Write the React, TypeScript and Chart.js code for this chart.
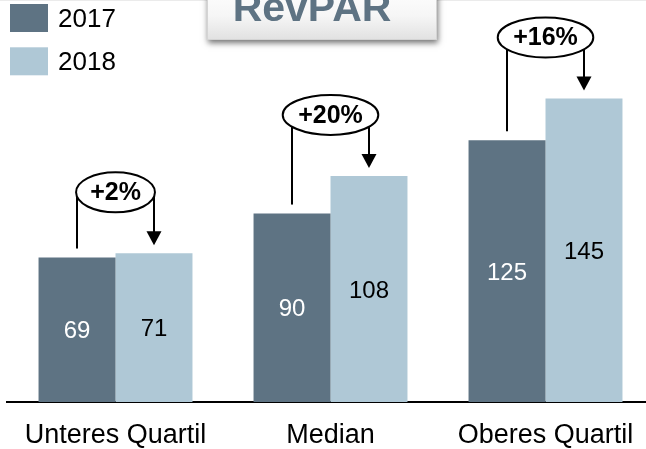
import React, { useEffect, useRef } from 'react';
import { Chart, registerables } from 'chart.js';

Chart.register(...registerables);

// ---- data ----
const categories = ['Unteres Quartil', 'Median', 'Oberes Quartil'];
const seriesLabels = ['2017', '2018'];
const values2017 = [69, 90, 125];
const values2018 = [71, 108, 145];
const changeLabels = ['+2%', '+20%', '+16%'];
const chartTitle = 'RevPAR';

// ---- styles ----
const DARK = '#5E7383';
const LIGHT = '#AFC8D6';
const FONT = "'Liberation Sans', Arial, Helvetica, sans-serif";

const titleBoxPlugin = {
  id: 'titleBox',
  afterDraw(chart: any) {
    const ctx = chart.ctx;
    ctx.save();
    ctx.fillStyle = '#ebebeb';
    ctx.fillRect(0, 0, chart.width, 1);
    const x = 207, y = -14, w = 230, h = 54;
    ctx.shadowColor = 'rgba(0,0,0,0.55)';
    ctx.shadowBlur = 6;
    ctx.shadowOffsetX = 1;
    ctx.shadowOffsetY = 3;
    const g = ctx.createLinearGradient(0, y, 0, y + h);
    g.addColorStop(0, '#ffffff');
    g.addColorStop(0.55, '#f6f6f6');
    g.addColorStop(1, '#e1e1e1');
    ctx.fillStyle = g;
    ctx.fillRect(x, y, w, h);
    ctx.shadowColor = 'transparent';
    ctx.strokeStyle = '#d4d4d4';
    ctx.lineWidth = 1;
    ctx.strokeRect(x + 0.5, y + 0.5, w - 1, h - 1);
    ctx.fillStyle = DARK;
    ctx.font = `bold 41px ${FONT}`;
    ctx.textAlign = 'center';
    ctx.textBaseline = 'alphabetic';
    ctx.fillText(chartTitle, 312, 20.5);
    ctx.restore();
  },
};

const legendPlugin = {
  id: 'customLegend',
  afterDraw(chart: any) {
    const ctx = chart.ctx;
    ctx.save();
    chart.data.datasets.forEach((ds: any, i: number) => {
      const by = 4 + i * 43.3;
      ctx.fillStyle = ds.backgroundColor;
      ctx.fillRect(10, by, 38, 28);
      ctx.fillStyle = '#000';
      ctx.font = `26px ${FONT}`;
      ctx.textAlign = 'left';
      ctx.textBaseline = 'middle';
      ctx.fillText(ds.label, 58, by + 15.5);
    });
    ctx.restore();
  },
};

const valueLabelPlugin = {
  id: 'valueLabels',
  afterDatasetsDraw(chart: any) {
    const ctx = chart.ctx;
    ctx.save();
    ctx.font = `24px ${FONT}`;
    ctx.textAlign = 'center';
    ctx.textBaseline = 'middle';
    chart.data.datasets.forEach((ds: any, di: number) => {
      const meta = chart.getDatasetMeta(di);
      meta.data.forEach((bar: any, j: number) => {
        const v = ds.data[j].y;
        ctx.fillStyle = di === 0 ? '#ffffff' : '#000000';
        ctx.fillText(String(v), bar.x, (bar.y + bar.base) / 2 + 2);
      });
    });
    ctx.restore();
  },
};

const changePlugin = {
  id: 'changeAnnotations',
  afterDatasetsDraw(chart: any) {
    const ctx = chart.ctx;
    const m0 = chart.getDatasetMeta(0);
    const m1 = chart.getDatasetMeta(1);
    ctx.save();
    ctx.font = `bold 25px ${FONT}`;
    ctx.lineWidth = 2;
    ctx.strokeStyle = '#000';
    changeLabels.forEach((label, j) => {
      const b0 = m0.data[j];
      const b1 = m1.data[j];
      if (!b0 || !b1) return;
      const cx = (b0.x + b1.x) / 2;
      const cy = Math.min(b0.y, b1.y) - 61;
      const tw = ctx.measureText(label).width;
      const rx = tw * 0.6 + 9;
      const ry = 20;
      const yOn = (x: number) => {
        const d = (x - cx) / rx;
        if (Math.abs(d) >= 1) return cy;
        return cy + ry * Math.sqrt(1 - d * d);
      };
      ctx.beginPath();
      ctx.moveTo(b0.x, b0.y - 9);
      ctx.lineTo(b0.x, yOn(b0.x));
      ctx.stroke();
      const tip = b1.y - 8;
      ctx.beginPath();
      ctx.moveTo(b1.x, yOn(b1.x));
      ctx.lineTo(b1.x, tip - 12);
      ctx.stroke();
      ctx.beginPath();
      ctx.moveTo(b1.x - 7.5, tip - 14);
      ctx.lineTo(b1.x + 7.5, tip - 14);
      ctx.lineTo(b1.x, tip);
      ctx.closePath();
      ctx.fillStyle = '#000';
      ctx.fill();
      ctx.beginPath();
      ctx.ellipse(cx, cy, rx, ry, 0, 0, Math.PI * 2);
      ctx.fillStyle = '#fff';
      ctx.fill();
      ctx.stroke();
      ctx.fillStyle = '#000';
      ctx.textAlign = 'center';
      ctx.textBaseline = 'middle';
      ctx.fillText(label, cx, cy + 1);
    });
    ctx.restore();
  },
};

export default function App() {
  const canvasRef = useRef<HTMLCanvasElement | null>(null);

  useEffect(() => {
    const canvas = canvasRef.current;
    if (!canvas) return;
    const chart = new Chart(canvas, {
      type: 'bar',
      data: {
        datasets: [
          {
            label: seriesLabels[0],
            data: values2017.map((v, i) => ({ x: i, y: v })),
            backgroundColor: DARK,
            borderWidth: 0,
          },
          {
            label: seriesLabels[1],
            data: values2018.map((v, i) => ({ x: i, y: v })),
            backgroundColor: LIGHT,
            borderWidth: 0,
          },
        ],
      } as any,
      options: {
        animation: false,
        responsive: false,
        layout: { padding: { left: 7, right: 0, top: 0, bottom: 0 } },
        datasets: { bar: { categoryPercentage: 0.716, barPercentage: 1 } } as any,
        plugins: {
          legend: { display: false },
          tooltip: { enabled: false },
          title: { display: false },
        },
        scales: {
          x: {
            type: 'linear',
            offset: false,
            bounds: 'data',
            min: -0.5047,
            max: 2.4674,
            grid: { display: false, drawTicks: false, offset: false },
            border: { display: true, color: '#000', width: 2 },
            afterBuildTicks: (s: any) => {
              s.ticks = categories.map((_, i) => ({ value: i }));
            },
            afterFit: (s: any) => {
              s.height = 47;
              s.paddingLeft = 0;
              s.paddingRight = 0;
            },
            ticks: {
              callback: (v: any) => categories[v as number] ?? '',
              color: '#000',
              font: { family: FONT, size: 27 },
              padding: 17,
              autoSkip: false,
              maxRotation: 0,
              minRotation: 0,
            },
          },
          y: { display: false, min: 0, max: 192 },
        },
      } as any,
      plugins: [changePlugin, valueLabelPlugin, legendPlugin, titleBoxPlugin],
    });
    return () => chart.destroy();
  }, []);

  return (
    <div style={{ position: 'fixed', left: 0, top: 0, width: 646, height: 449, background: '#fff' }}>
      <canvas ref={canvasRef} width={646} height={449} style={{ display: 'block', width: 646, height: 449 }} />
    </div>
  );
}
